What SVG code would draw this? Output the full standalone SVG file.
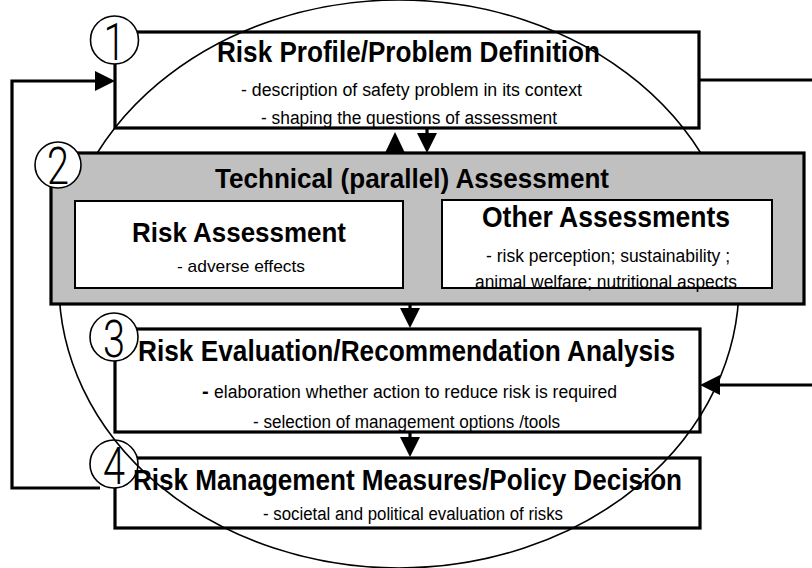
<svg xmlns="http://www.w3.org/2000/svg" width="812" height="568" viewBox="0 0 812 568">
<style>
.box{fill:#fff;stroke:#000;stroke-width:3.2}
.gray{fill:#c0c0c0;stroke:#000;stroke-width:3.2}
.inner{fill:#fff;stroke:#000;stroke-width:2}
.num{fill:#fff;stroke:#000;stroke-width:1.6}
.ln{fill:none;stroke:#000;stroke-width:3.2}
.tri{fill:#000}
.ell{fill:none;stroke:#000;stroke-width:1.6}
text{font-family:"Liberation Sans",Arial,sans-serif;fill:#000}
.t{font-weight:bold}
.b{font-size:18px}
.d{font-family:Roboto,"Liberation Sans",sans-serif;font-weight:300;font-size:52px}
</style>
<defs>
<marker id="ah" viewBox="0 0 20 20" refX="0" refY="10" markerWidth="20" markerHeight="20" markerUnits="userSpaceOnUse" orient="auto">
<path d="M0,0 L20,10 L0,20 z" fill="#000"/>
</marker>
</defs>
<g id="connectors">
<polyline class="ln" points="100,488 12,488 12,81 95,81" marker-end="url(#ah)"/>
<line class="ln" x1="699" y1="80" x2="812" y2="80"/>
<line class="ln" x1="812" y1="385" x2="720" y2="385" marker-end="url(#ah)"/>
<line class="ln" x1="427" y1="128" x2="427" y2="133" marker-end="url(#ah)"/>
<polygon class="tri" points="385,153 405,153 395,132"/>
<line class="ln" x1="410" y1="303" x2="410" y2="308" marker-end="url(#ah)"/>
<line class="ln" x1="410" y1="432" x2="410" y2="437" marker-end="url(#ah)"/>
</g>
<g id="node1">
<rect class="box" x="115" y="32" width="584" height="96"/>
<circle class="num" cx="114.5" cy="40" r="24"/>
<text class="d" x="103.5" y="60" textLength="22" lengthAdjust="spacingAndGlyphs">1</text>
<text class="t" x="217" y="62" font-size="30" textLength="383" lengthAdjust="spacingAndGlyphs">Risk Profile/Problem Definition</text>
<text class="b" x="241" y="96" textLength="341" lengthAdjust="spacingAndGlyphs">- description of safety problem in its context</text>
<text class="b" x="261" y="124" textLength="296" lengthAdjust="spacingAndGlyphs">- shaping the questions of assessment</text>
</g>
<g id="node3">
<rect class="box" x="115" y="329" width="585" height="103"/>
<circle class="num" cx="114" cy="337" r="24"/>
<text class="d" x="103" y="357" textLength="22" lengthAdjust="spacingAndGlyphs">3</text>
<text class="t" x="138" y="361" font-size="30" textLength="537" lengthAdjust="spacingAndGlyphs">Risk Evaluation/Recommendation Analysis</text>
<text class="t" x="202" y="398" font-size="20">-</text>
<text class="b" x="214" y="398" textLength="403" lengthAdjust="spacingAndGlyphs">elaboration whether action to reduce risk is required</text>
<text class="b" x="253" y="428" textLength="307" lengthAdjust="spacingAndGlyphs">- selection of management options /tools</text>
</g>
<g id="node4">
<rect class="box" x="115" y="458" width="585" height="70"/>
<circle class="num" cx="114" cy="464" r="24"/>
<text class="d" x="103" y="484" textLength="22" lengthAdjust="spacingAndGlyphs">4</text>
<text class="t" x="133" y="490" font-size="30" textLength="549" lengthAdjust="spacingAndGlyphs">Risk Management Measures/Policy Decision</text>
<text class="b" x="263" y="520" textLength="300" lengthAdjust="spacingAndGlyphs">- societal and political evaluation of risks</text>
</g>
<ellipse class="ell" cx="399" cy="284" rx="340" ry="284"/>
<g id="node2">
<rect class="gray" x="51" y="153" width="753" height="151"/>
<circle class="num" cx="58" cy="165" r="23"/>
<text class="d" x="47" y="184" textLength="22" lengthAdjust="spacingAndGlyphs">2</text>
<text class="t" x="215" y="188" font-size="28" textLength="394" lengthAdjust="spacingAndGlyphs">Technical (parallel) Assessment</text>
<g id="node2a">
<rect class="inner" x="75" y="201" width="328" height="87"/>
<text class="t" x="132" y="242" font-size="28" textLength="214" lengthAdjust="spacingAndGlyphs">Risk Assessment</text>
<text x="177" y="272" font-size="17" textLength="128" lengthAdjust="spacingAndGlyphs">- adverse effects</text>
</g>
<g id="node2b">
<rect class="inner" x="442" y="200" width="330" height="88"/>
<text class="t" x="482" y="227" font-size="29" textLength="248" lengthAdjust="spacingAndGlyphs">Other Assessments</text>
<text class="b" x="486" y="262" textLength="244" lengthAdjust="spacingAndGlyphs">- risk perception; sustainability ;</text>
<text class="b" x="475" y="288" textLength="262" lengthAdjust="spacingAndGlyphs">animal welfare; nutritional aspects</text>
</g>
</g>
</svg>
